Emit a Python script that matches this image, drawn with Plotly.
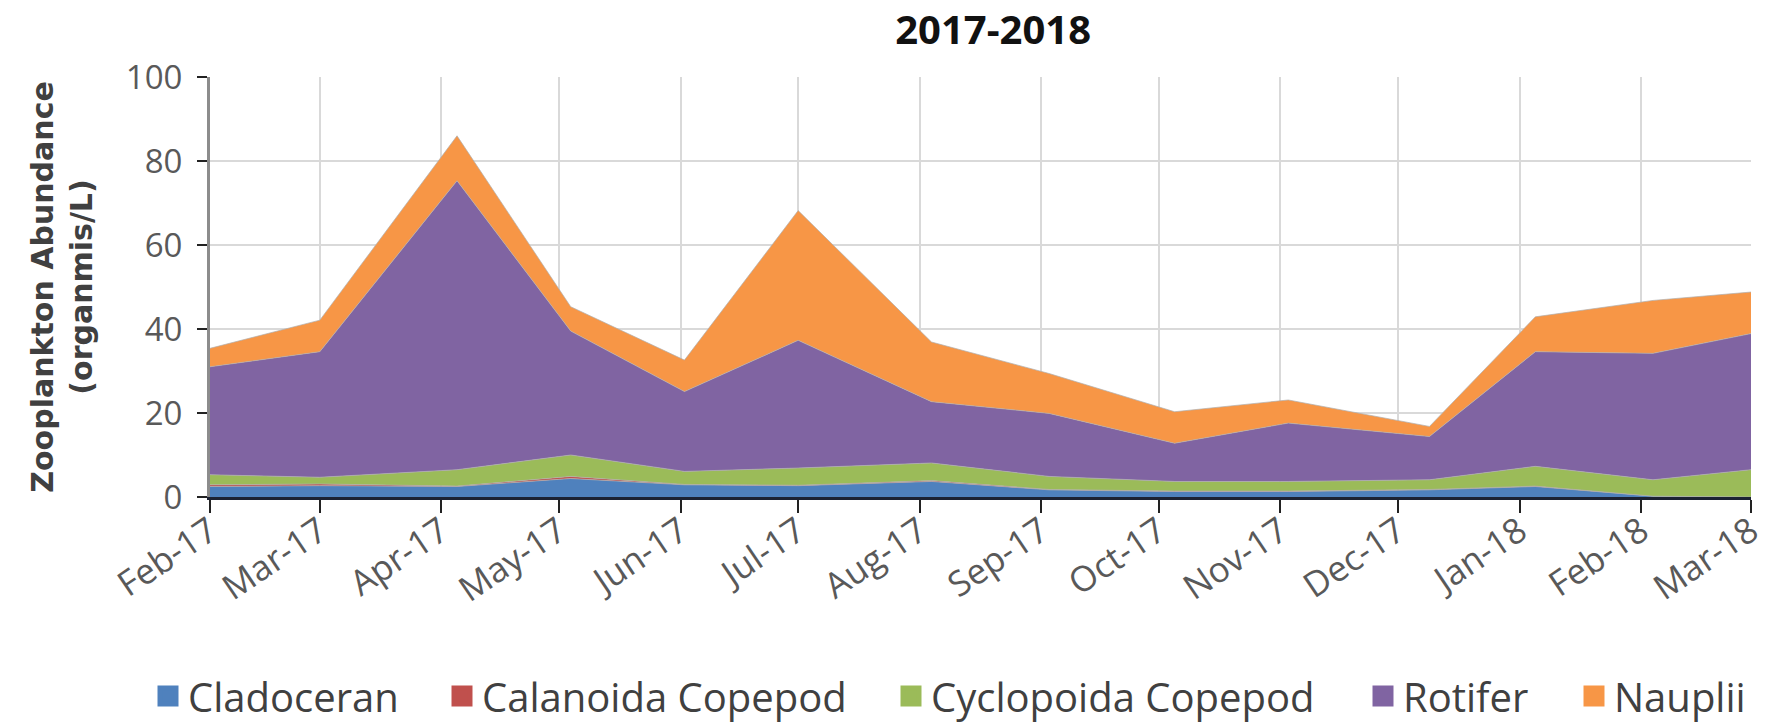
import plotly.graph_objects as go

# sampling dates
dates = ['2017-02-01', '2017-03-01', '2017-04-05', '2017-05-04', '2017-06-02',
         '2017-07-01', '2017-08-04', '2017-09-03', '2017-10-05', '2017-11-03',
         '2017-12-09', '2018-01-05', '2018-02-04', '2018-03-01']

# organisms/L per group
cladoceran = [2.5, 2.7, 2.5, 4.4, 2.9, 2.7, 3.7, 1.7, 1.3, 1.3, 1.7, 2.5, 0.2, 0.0]
calanoida = [0.4, 0.4, 0.1, 0.5, 0.1, 0.1, 0.2, 0.1, 0.1, 0.1, 0.1, 0.1, 0.0, 0.0]
cyclopoida = [2.4, 1.6, 3.9, 5.1, 3.1, 4.1, 4.2, 3.1, 2.3, 2.3, 2.3, 4.7, 3.9, 6.5]
rotifer = [25.7, 29.9, 68.8, 29.5, 19.0, 30.4, 14.6, 15.0, 9.1, 13.9, 10.3, 27.3, 30.1, 32.4]
nauplii = [4.4, 7.5, 10.7, 5.8, 7.5, 30.9, 14.2, 9.5, 7.5, 5.5, 2.4, 8.3, 12.6, 9.9]

series = [
    ('Cladoceran', cladoceran, '#4F81BD'),
    ('Calanoida Copepod', calanoida, '#C0504D'),
    ('Cyclopoida Copepod', cyclopoida, '#9BBB59'),
    ('Rotifer', rotifer, '#8064A2'),
    ('Nauplii', nauplii, '#F79646'),
]
# left pixel of each legend entry along the bottom
legend_x = [148, 442, 891, 1363, 1574]

fig = go.Figure()
for i, (name, vals, col) in enumerate(series):
    fig.add_trace(go.Scatter(
        x=dates, y=vals, name=name,
        mode='lines', stackgroup='one',
        fillcolor=col,
        line=dict(width=1, color='rgba(175,175,175,0.7)'),
        showlegend=False,
    ))
    # square swatch for the legend (area traces only give a thin bar)
    lg = 'legend' if i == 0 else 'legend%d' % (i + 1)
    fig.add_trace(go.Scatter(
        x=[None], y=[None], name=name, mode='markers', legend=lg,
        marker=dict(symbol='square', size=16, color=col, line=dict(width=5, color=col)),
    ))

legend_style = dict(orientation='h', xref='container', yref='container',
                    xanchor='left', y=0.04, yanchor='middle',
                    font=dict(family='Open Sans', size=40, color='#404040'),
                    itemsizing='trace', bgcolor='rgba(0,0,0,0)')
legends = {}
for i, lx in enumerate(legend_x):
    key = 'legend' if i == 0 else 'legend%d' % (i + 1)
    legends[key] = dict(legend_style, x=lx / 1783)

fig.update_layout(
    width=1783, height=725,
    paper_bgcolor='white', plot_bgcolor='white',
    margin=dict(l=210, r=32, t=77, b=228),
    title=dict(text='<b>2017-2018</b>', x=0.557, xanchor='center', y=0.959, yanchor='middle',
               font=dict(family='Open Sans', size=40, color='#111111')),
    showlegend=True,
    font=dict(family='Open Sans', color='#595959'),
    **legends,
)

fig.update_xaxes(
    type='date', range=['2017-02-01', '2018-03-01'],
    tick0='2017-02-01', dtick='M1', tickformat='%b-%y', tickangle=-34,
    showgrid=True, gridcolor='#D9D9D9', gridwidth=2,
    showline=True, linecolor='#1C2233', linewidth=3,
    ticks='outside', ticklen=13, tickwidth=2, tickcolor='#222222',
    ticklabelstandoff=-16,
    tickfont=dict(family='Open Sans', size=35, color='#595959'),
    zeroline=False, automargin=False,
)
fig.update_yaxes(
    range=[0, 100], dtick=20,
    showgrid=True, gridcolor='#D9D9D9', gridwidth=2,
    showline=True, linecolor='#8C8C8C', linewidth=3,
    ticks='outside', ticklen=10, tickwidth=2, tickcolor='#222222',
    ticklabelstandoff=8,
    tickfont=dict(family='Open Sans', size=33, color='#595959'),
    title=dict(text='<b>Zooplankton Abundance<br>(organmis/L)</b>', standoff=25,
               font=dict(family='DejaVu Sans', size=30, color='#404040')),
    zeroline=False, automargin=False,
)

# the page's default 8px body margin would shift the whole figure
fig.write_html('out.html', config={'displayModeBar': False},
               post_script="document.body.style.margin='0';")
